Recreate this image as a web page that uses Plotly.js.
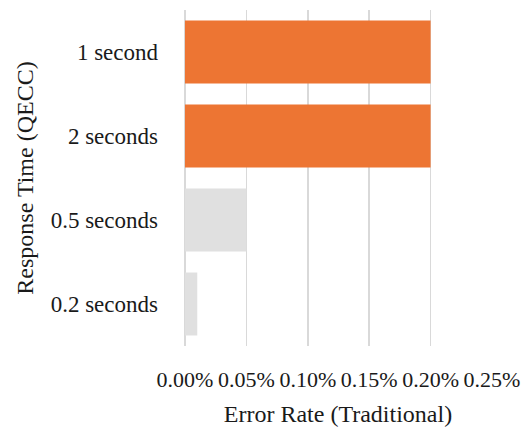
<!DOCTYPE html>
<html>
<head>
<meta charset="utf-8">
<script src="https://cdn.plot.ly/plotly-3.0.1.min.js"></script>
<style>
  html, body { margin: 0; padding: 0; background: #fff; }
  #chart { width: 524px; height: 433px; }
</style>
</head>
<body>
<div id="chart"></div>
<script>
// Response time settings (top to bottom) and their traditional error rates
const categories = ['1 second', '2 seconds', '0.5 seconds', '0.2 seconds'];
const errorRates = [0.0020, 0.0020, 0.0005, 0.0001];
const barColors = ['#ED7533', '#ED7533', '#E0E0E0', '#E0E0E0'];
const xTicks = [0, 0.0005, 0.0010, 0.0015, 0.0020, 0.0025];
const xTickLabels = ['0.00%', '0.05%', '0.10%', '0.15%', '0.20%', '0.25%'];

const fontFamily = 'Liberation Serif, Times New Roman, serif';

const trace = {
  type: 'bar',
  orientation: 'h',
  y: categories,
  x: errorRates,
  marker: { color: barColors, line: { width: 0 } },
  hoverinfo: 'skip'
};

const layout = {
  width: 524,
  height: 433,
  margin: { l: 184, r: 32, t: 10, b: 87 },
  paper_bgcolor: '#ffffff',
  plot_bgcolor: '#ffffff',
  font: { family: fontFamily, size: 22, color: '#1a1a1a' },
  showlegend: false,
  bargap: 0.25,
  xaxis: {
    range: [-0.000008, 0.0025],
    tickvals: xTicks,
    ticktext: xTickLabels,
    showgrid: true,
    gridcolor: '#D9D9D9',
    gridwidth: 1.5,
    zeroline: true,
    zerolinecolor: '#D9D9D9',
    zerolinewidth: 1.5,
    showline: false,
    ticks: '',
    ticklabelstandoff: 18,
    title: { text: 'Error Rate (Traditional)', standoff: 14, font: { family: fontFamily, size: 24 } },
    tickfont: { family: fontFamily, size: 22 },
    fixedrange: true
  },
  yaxis: {
    type: 'category',
    categoryorder: 'array',
    categoryarray: categories,
    autorange: 'reversed',
    showgrid: false,
    zeroline: false,
    showline: false,
    ticks: '',
    ticklabelstandoff: 25,
    title: { text: 'Response Time (QECC)', standoff: 10, font: { family: fontFamily, size: 24 } },
    tickfont: { family: fontFamily, size: 23 },
    fixedrange: true
  }
};

Plotly.newPlot('chart', [trace], layout, { displayModeBar: false, staticPlot: true });
</script>
</body>
</html>
